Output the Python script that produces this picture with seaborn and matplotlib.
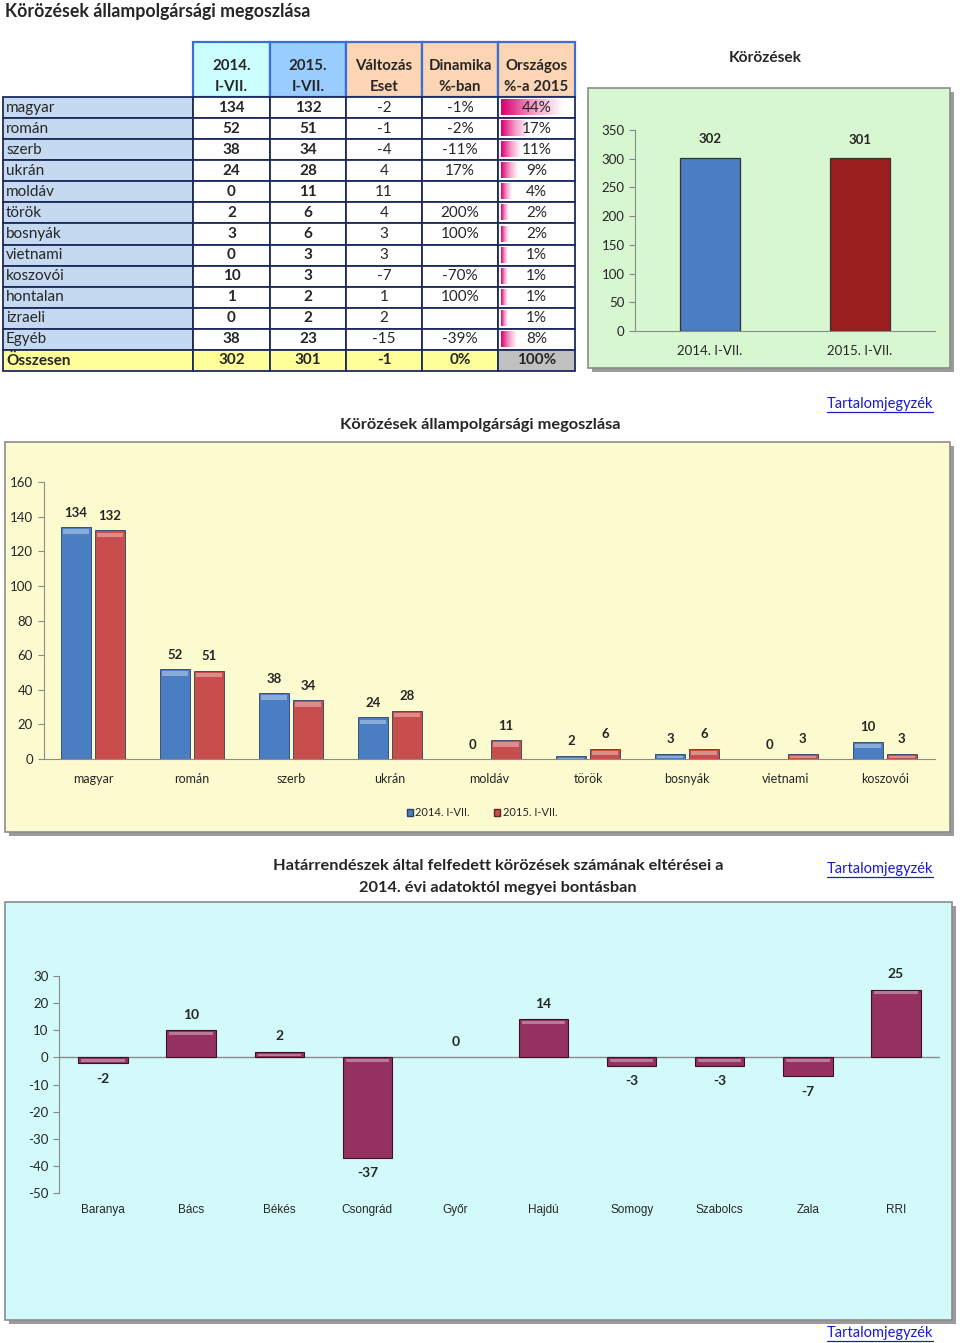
import numpy as np
import pandas as pd
import matplotlib
matplotlib.use("Agg")
import matplotlib.pyplot as plt
import seaborn as sns
from matplotlib.patches import Rectangle, Patch
from matplotlib.colors import LinearSegmentedColormap, to_rgb

# ---------------- data ----------------
nationalities = ['magyar', 'román', 'szerb', 'ukrán', 'moldáv', 'török', 'bosnyák',
                 'vietnami', 'koszovói', 'hontalan', 'izraeli', 'Egyéb']
cases_2014 = [134, 52, 38, 24, 0, 2, 3, 0, 10, 1, 0, 38]
cases_2015 = [132, 51, 34, 28, 11, 6, 6, 3, 3, 2, 2, 23]
change_cases = [-2, -1, -4, 4, 11, 4, 3, 3, -7, 1, 2, -15]
dynamics = ['-1%', '-2%', '-11%', '17%', '', '200%', '100%', '', '-70%', '100%', '', '-39%']
share_2015 = [44, 17, 11, 9, 4, 2, 2, 1, 1, 1, 1, 8]
total_label = 'Összesen'
total_row = ['302', '301', '-1', '0%', '100%']
header_cols = ['2014.\nI-VII.', '2015.\nI-VII.', 'Változás\nEset', 'Dinamika\n%-ban', 'Országos\n%-a 2015']

periods = ['2014. I-VII.', '2015. I-VII.']
period_totals = [302, 301]

chart_nations = ['magyar', 'román', 'szerb', 'ukrán', 'moldáv', 'török', 'bosnyák', 'vietnami', 'koszovói']
chart_2014 = [134, 52, 38, 24, 0, 2, 3, 0, 10]
chart_2015 = [132, 51, 34, 28, 11, 6, 6, 3, 3]

counties = ['Baranya', 'Bács', 'Békés', 'Csongrád', 'Győr', 'Hajdú', 'Somogy', 'Szabolcs', 'Zala', 'RRI']
county_diff = [-2, 10, 2, -37, 0, 14, -3, -3, -7, 25]

# ---------------- style ----------------
sns.set_style("white")
plt.rcParams['font.family'] = ['Lato', 'DejaVu Sans']
plt.rcParams['axes.unicode_minus'] = False

BLUE = '#4a7ec2'
RED = '#c84e4d'
DARKRED = '#9b1f1f'
MAROON = '#943160'
LINK = '#1a1ad0'

W, H = 960, 1343
fig = plt.figure(figsize=(W / 100, H / 100), dpi=100)
bg = fig.add_axes([0, 0, 1, 1], zorder=0)
bg.axis('off')


def fax(x0, y0, x1, y1):
    a = fig.add_axes([x0 / W, 1 - y1 / H, (x1 - x0) / W, (y1 - y0) / H], zorder=2)
    a.set_facecolor('none')
    return a


def panel(x0, y0, x1, y1, face):
    bg.add_patch(Rectangle((x0 + 4, y0 + 4), x1 - x0, y1 - y0, facecolor='#9a9a9a', edgecolor='none', zorder=1))
    bg.add_patch(Rectangle((x0, y0), x1 - x0, y1 - y0, facecolor=face, edgecolor='#8c8c8c', lw=1.2, zorder=2))


def link(x, y):
    bg.text(x, y, 'Tartalomjegyzék', color=LINK, fontsize=10.5, ha='center', va='center', zorder=5)
    bg.plot([x - 53, x + 53], [y + 8, y + 8], color=LINK, lw=0.9, zorder=5)


def hide_zero_edges(ax):
    for p in ax.patches:
        if abs(p.get_height()) < 1e-9:
            p.set_linewidth(0)


def bevel(ax, band, offset):
    """Light band near the upper edge of each bar (imitates the bevelled 3-D bars)."""
    for p in list(ax.patches):
        h = p.get_height()
        if abs(h) < 1e-9:
            continue
        top = max(p.get_y(), p.get_y() + h)
        r, g, b = to_rgb(p.get_facecolor())
        light = (r + (1 - r) * 0.35, g + (1 - g) * 0.35, b + (1 - b) * 0.35)
        hb = min(band, abs(h) * 0.5)
        ax.add_patch(Rectangle((p.get_x() + p.get_width() * 0.06, top - offset - hb),
                               p.get_width() * 0.88, hb, facecolor=light, edgecolor='none',
                               zorder=p.get_zorder() + 0.1))


# ---------------- title ----------------
bg.text(5, 11, 'Körözések állampolgársági megoszlása', fontsize=12.8, fontweight='bold',
        ha='left', va='center', zorder=5)

# ---------------- table ----------------
col_edges = [3, 193, 270, 346, 422, 498, 575]
head_top, head_bot = 42, 97
nrows = len(nationalities) + 1
row_h = (371 - head_bot) / nrows
head_fills = ['#ccffff', '#99ccff', '#fcd5b4', '#fcd5b4', '#fcd5b4']
for j, (lab, fc) in enumerate(zip(header_cols, head_fills)):
    x0, x1 = col_edges[j + 1], col_edges[j + 2]
    bg.add_patch(Rectangle((x0, head_top), x1 - x0, head_bot - head_top, facecolor=fc,
                           edgecolor='#3a6fd8', lw=1.6, zorder=3))
    l1, l2 = lab.split('\n')
    bg.text((x0 + x1) / 2, head_top + 24, l1, fontsize=10.8, fontweight='bold', ha='center', va='center', zorder=5)
    bg.text((x0 + x1) / 2, head_top + 45, l2, fontsize=10.8, fontweight='bold', ha='center', va='center', zorder=5)

pink = LinearSegmentedColormap.from_list('pink', ['#d9006e', '#f59ac8', '#ffffff'])
grad = np.linspace(0, 1, 64).reshape(1, -1)
EDGE = '#1c2b5c'
for i in range(nrows):
    y0 = head_bot + i * row_h
    is_total = i == len(nationalities)
    for j in range(6):
        x0, x1 = col_edges[j], col_edges[j + 1]
        if is_total:
            fc = '#c0c0c0' if j == 5 else '#ffff99'
        else:
            fc = '#c5d9f1' if j == 0 else 'white'
        bg.add_patch(Rectangle((x0, y0), x1 - x0, row_h, facecolor=fc, edgecolor=EDGE, lw=1.3, zorder=3))
    yc = y0 + row_h / 2
    if is_total:
        vals = [total_label] + total_row
        weights = ['bold'] * 6
    else:
        vals = [nationalities[i], str(cases_2014[i]), str(cases_2015[i]), str(change_cases[i]),
                dynamics[i], f'{share_2015[i]}%']
        weights = ['normal', 'bold', 'bold', 'normal', 'normal', 'normal']
        bw = 5 + share_2015[i] * 1.3
        bx = col_edges[5] + 3
        bg.imshow(grad, cmap=pink, extent=[bx, bx + bw, y0 + row_h - 3, y0 + 3],
                  aspect='auto', zorder=4, interpolation='bilinear')
    for j, (v, wgt) in enumerate(zip(vals, weights)):
        if j == 0:
            bg.text(col_edges[0] + 3, yc, v, fontsize=11, fontweight=wgt, ha='left', va='center', zorder=5)
        else:
            bg.text((col_edges[j] + col_edges[j + 1]) / 2, yc, v, fontsize=11, fontweight=wgt,
                    ha='center', va='center', zorder=5)

# ---------------- top right chart ----------------
bg.text(765, 58, 'Körözések', fontsize=11.2, fontweight='bold', ha='center', va='center', zorder=5)
panel(588, 88, 950, 368, '#d6f7d0')
ax1 = fax(635, 130, 935, 331)
sns.barplot(x=periods, y=period_totals, hue=periods, palette=[BLUE, DARKRED], width=0.4,
            saturation=1, legend=False, ax=ax1, edgecolor='#333333', linewidth=0.9)
ax1.set_ylim(0, 350)
ax1.set_yticks(range(0, 351, 50))
for c in ax1.containers:
    ax1.bar_label(c, padding=9, fontsize=9.5, fontweight='bold')
ax1.tick_params(axis='both', labelsize=9.5, length=4, color='#888888', direction='out', left=True, bottom=False)
ax1.tick_params(axis='x', pad=6)
for s in ['top', 'right']:
    ax1.spines[s].set_visible(False)
for s in ['left', 'bottom']:
    ax1.spines[s].set_color('#8c8c8c')

# ---------------- middle chart ----------------
bg.text(480, 425, 'Körözések állampolgársági megoszlása', fontsize=11.8, fontweight='bold',
        ha='center', va='center', zorder=5)
link(880, 404)
panel(5, 442, 950, 832, '#fcfbcf')
ax2 = fax(43.5, 482, 934.5, 759)
df_mid = pd.DataFrame({
    'nat': chart_nations * 2,
    'val': chart_2014 + chart_2015,
    'year': [periods[0]] * len(chart_nations) + [periods[1]] * len(chart_nations),
})
sns.barplot(data=df_mid, x='nat', y='val', hue='year', palette=[BLUE, RED], width=0.68, gap=0.1,
            saturation=1, legend=False, ax=ax2, edgecolor='#2d3f66', linewidth=0.6)
hide_zero_edges(ax2)
ax2.set_ylim(0, 160)
ax2.set_yticks(range(0, 161, 20))
ax2.set_xlabel('')
ax2.set_ylabel('')
for c in ax2.containers:
    ax2.bar_label(c, padding=6, fontsize=9.5, fontweight='bold')
bevel(ax2, band=2.6, offset=1.2)
ax2.tick_params(axis='y', labelsize=9.5, length=4, color='#888888', left=True)
ax2.tick_params(axis='x', labelsize=9, length=0, pad=10)
for s in ['top', 'right']:
    ax2.spines[s].set_visible(False)
for s in ['left', 'bottom']:
    ax2.spines[s].set_color('#8c8c8c')
fig.legend(handles=[Patch(facecolor=BLUE, edgecolor='#2d3f66', label=periods[0]),
                    Patch(facecolor=RED, edgecolor='#6b2020', label=periods[1])],
           loc='center', bbox_to_anchor=(482 / W, 1 - 813 / H), ncol=2, frameon=False,
           fontsize=8, handlelength=0.55, handleheight=0.55, handletextpad=0.2, columnspacing=2.2)

# ---------------- bottom chart ----------------
bg.text(498, 866, 'Határrendészek által felfedett körözések számának eltérései a', fontsize=11.8,
        fontweight='bold', ha='center', va='center', zorder=5)
bg.text(498, 888, '2014. évi adatoktól megyei bontásban', fontsize=11.8,
        fontweight='bold', ha='center', va='center', zorder=5)
link(880, 869)
panel(5, 902, 952, 1320, '#d2fafa')
ax3 = fax(59, 976, 940, 1193)
sns.barplot(x=counties, y=county_diff, color=MAROON, width=0.56, saturation=1, ax=ax3,
            edgecolor='#3d1025', linewidth=0.8)
hide_zero_edges(ax3)
ax3.set_ylim(-50, 30)
ax3.set_yticks(range(-50, 31, 10))
for c in ax3.containers:
    ax3.bar_label(c, padding=7, fontsize=10, fontweight='bold')
bevel(ax3, band=1.0, offset=0.6)
ax3.axhline(0, color='#8c8c8c', lw=1, zorder=0.5)
ax3.tick_params(axis='y', labelsize=9.5, length=4, color='#888888', left=True)
ax3.tick_params(axis='x', labelsize=8.5, length=0, pad=8)
for lab in ax3.get_xticklabels():
    lab.set_family(['Liberation Sans', 'DejaVu Sans'])
for s in ['top', 'right', 'bottom']:
    ax3.spines[s].set_visible(False)
ax3.spines['left'].set_color('#8c8c8c')

link(880, 1333)

bg.set_xlim(0, W)
bg.set_ylim(H, 0)
fig.savefig('out.png', dpi=100)
